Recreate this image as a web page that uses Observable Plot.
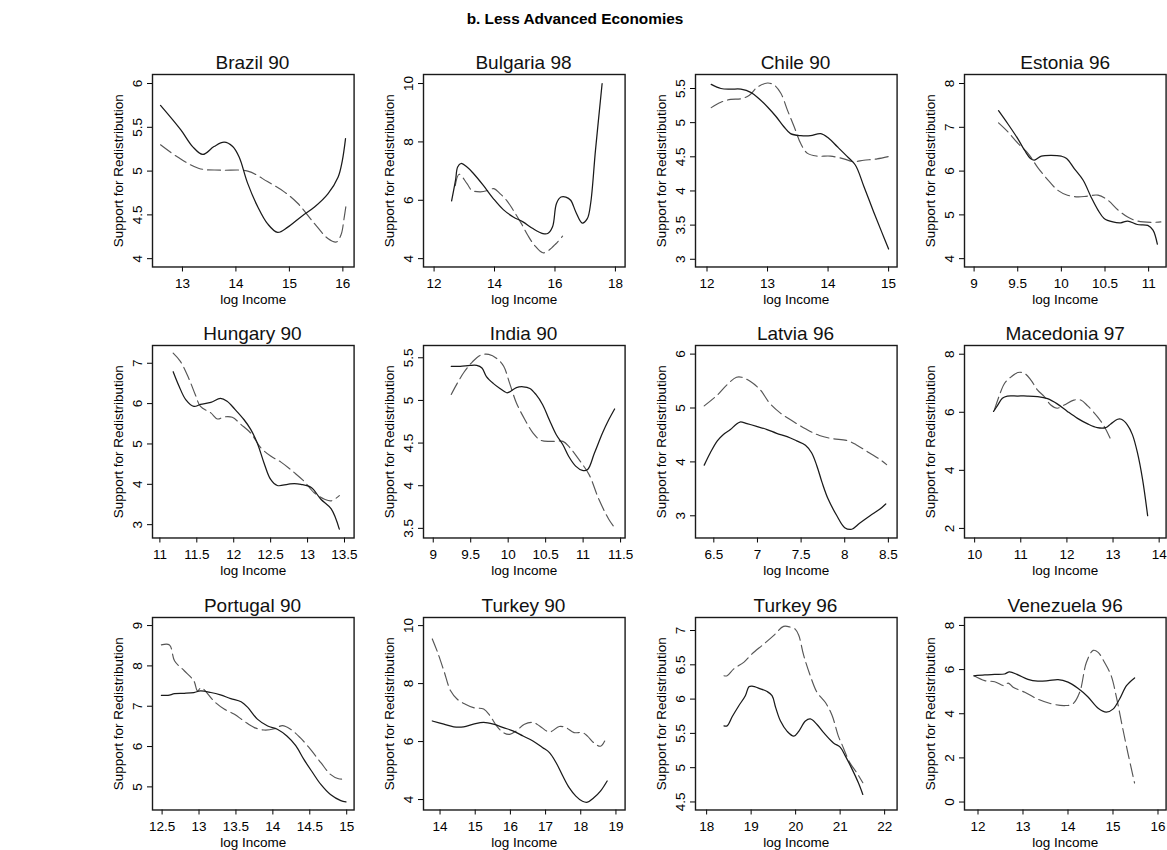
<!DOCTYPE html>
<html>
<head>
<meta charset="utf-8">
<script src="https://cdn.jsdelivr.net/npm/d3@7"></script>
<script src="https://cdn.jsdelivr.net/npm/@observablehq/plot@0.6"></script>
<style>
html, body { margin: 0; padding: 0; background: #fff; overflow: hidden; }
#chart { position: relative; width: 1167px; height: 850px; font-family: "Liberation Sans", Arial, Helvetica, sans-serif; color: #000; }
.main { position: absolute; top: 10.5px; left: 0; width: 1150px; text-align: center; font-weight: bold; font-size: 15.4px; line-height: 1; }
.ptitle { position: absolute; text-align: center; font-size: 19px; line-height: 1; color: #111; white-space: nowrap; }
.panel { position: absolute; }
</style>
</head>
<body>
<div id="chart"></div>
<script>
// ---------- data ----------
const titles = ["Brazil 90", "Bulgaria 98", "Chile 90", "Estonia 96",
                "Hungary 90", "India 90", "Latvia 96", "Macedonia 97",
                "Portugal 90", "Turkey 90", "Turkey 96", "Venezuela 96"];

const xTicks = [[13,14,15,16],[12,14,16,18],[12,13,14,15],[9,9.5,10,10.5,11],
                [11,11.5,12,12.5,13,13.5],[9,9.5,10,10.5,11,11.5],[6.5,7,7.5,8,8.5],[10,11,12,13,14],
                [12.5,13,13.5,14,14.5,15],[14,15,16,17,18,19],[18,19,20,21,22],[12,13,14,15,16]];
const yTicks = [[4,4.5,5,5.5,6],[4,6,8,10],[3,3.5,4,4.5,5,5.5],[4,5,6,7,8],
                [3,4,5,6,7],[3.5,4,4.5,5,5.5],[3,4,5,6],[2,4,6,8],
                [5,6,7,8,9],[4,6,8,10],[4.5,5,5.5,6,6.5,7],[0,2,4,6,8]];
const xDomains = [[12.44,16.21],[11.65,18.32],[11.81,15.14],[8.89,11.20],
                  [10.90,13.63],[8.87,11.56],[6.29,8.60],[9.78,14.15],
                  [12.37,15.10],[13.53,19.26],[17.75,22.28],[11.70,16.18]];
const yDomains = [[3.905,6.103],[3.714,10.31],[2.887,5.705],[3.81,8.206],
                  [2.67,7.44],[3.387,5.644],[2.588,6.16],[1.67,8.3],
                  [4.427,9.2],[3.64,10.28],[4.383,7.19],[-0.36,8.36]];

const brazilSolid = [[12.59,5.75],[12.97,5.47],[13.19,5.28],[13.38,5.19],[13.59,5.28],[13.78,5.33],[13.94,5.28],[14.06,5.16],[14.22,4.86],[14.41,4.59],[14.59,4.40],[14.78,4.30],[14.97,4.36],[15.22,4.48],[15.47,4.59],[15.72,4.74],[15.91,4.93],[15.99,5.12],[16.05,5.37]];
const brazilDashed = [[12.59,5.30],[12.91,5.16],[13.31,5.03],[13.72,5.01],[14.22,5.00],[14.59,4.88],[14.91,4.76],[15.16,4.63],[15.47,4.40],[15.72,4.23],[15.88,4.19],[15.97,4.28],[16.02,4.45],[16.06,4.61]];

const bulgariaSolid = [[12.58,5.98],[12.71,6.69],[12.78,7.14],[12.89,7.26],[13.09,7.14],[13.31,6.91],[13.63,6.51],[13.96,6.06],[14.29,5.68],[14.62,5.43],[14.94,5.26],[15.27,5.03],[15.60,4.86],[15.76,4.86],[15.92,5.09],[16.05,5.89],[16.2,6.11],[16.36,6.11],[16.52,6.0],[16.69,5.6],[16.9,5.22],[17.07,5.37],[17.18,5.89],[17.34,7.71],[17.56,10.0]];
const bulgariaDashed = [[12.70,6.50],[12.83,6.89],[13.09,6.57],[13.25,6.34],[13.53,6.29],[13.80,6.34],[13.98,6.40],[14.18,6.23],[14.40,6.00],[14.62,5.66],[14.89,5.20],[15.10,4.80],[15.32,4.46],[15.60,4.20],[15.80,4.29],[16.03,4.51],[16.25,4.77]];

const chileSolid = [[12.07,5.56],[12.23,5.50],[12.39,5.49],[12.56,5.49],[12.73,5.44],[12.86,5.35],[13.0,5.23],[13.14,5.09],[13.27,4.94],[13.38,4.84],[13.55,4.81],[13.71,4.81],[13.88,4.84],[14.01,4.77],[14.15,4.65],[14.31,4.51],[14.45,4.38],[14.59,4.07],[14.75,3.70],[14.89,3.39],[15.0,3.15]];
const chileDashed = [[12.07,5.22],[12.23,5.30],[12.39,5.34],[12.56,5.35],[12.70,5.40],[12.83,5.52],[13.0,5.58],[13.11,5.55],[13.22,5.43],[13.33,5.18],[13.44,4.94],[13.55,4.69],[13.66,4.55],[13.82,4.51],[14.04,4.51],[14.26,4.47],[14.42,4.43],[14.59,4.45],[14.81,4.47],[15.03,4.51]];

const estoniaSolid = [[9.28,7.38],[9.39,7.07],[9.5,6.74],[9.58,6.47],[9.65,6.28],[9.69,6.25],[9.77,6.34],[9.88,6.36],[10.0,6.34],[10.06,6.29],[10.15,6.05],[10.25,5.79],[10.34,5.41],[10.42,5.11],[10.49,4.92],[10.59,4.84],[10.68,4.82],[10.76,4.86],[10.87,4.78],[10.99,4.76],[11.05,4.65],[11.1,4.33]];
const estoniaDashed = [[9.28,7.10],[9.39,6.89],[9.5,6.64],[9.62,6.40],[9.73,6.08],[9.85,5.79],[9.96,5.56],[10.07,5.45],[10.19,5.41],[10.30,5.43],[10.42,5.45],[10.53,5.34],[10.65,5.11],[10.76,4.95],[10.87,4.86],[11.03,4.83],[11.14,4.84]];

const hungarySolid = [[11.18,6.79],[11.26,6.43],[11.35,6.10],[11.46,5.93],[11.55,5.98],[11.69,6.03],[11.82,6.13],[11.91,6.06],[12.02,5.85],[12.14,5.60],[12.23,5.36],[12.32,5.02],[12.41,4.53],[12.5,4.12],[12.59,3.97],[12.73,4.0],[12.82,4.02],[12.91,4.0],[13.05,3.92],[13.18,3.63],[13.32,3.39],[13.43,2.89]];
const hungaryDashed = [[11.18,7.25],[11.28,7.04],[11.39,6.63],[11.48,6.22],[11.55,5.93],[11.69,5.77],[11.78,5.62],[11.87,5.67],[11.98,5.66],[12.10,5.48],[12.23,5.27],[12.37,4.90],[12.5,4.70],[12.64,4.55],[12.82,4.29],[12.95,4.08],[13.09,3.79],[13.23,3.63],[13.32,3.59],[13.43,3.72]];

const indiaSolid = [[9.24,5.40],[9.36,5.40],[9.49,5.41],[9.58,5.41],[9.65,5.38],[9.71,5.28],[9.80,5.20],[9.89,5.14],[9.98,5.09],[10.02,5.10],[10.11,5.15],[10.20,5.16],[10.29,5.14],[10.37,5.07],[10.46,4.95],[10.55,4.77],[10.64,4.60],[10.73,4.48],[10.81,4.34],[10.90,4.23],[10.99,4.18],[11.06,4.19],[11.15,4.38],[11.26,4.62],[11.34,4.77],[11.42,4.90]];
const indiaDashed = [[9.24,5.07],[9.32,5.20],[9.41,5.33],[9.52,5.45],[9.63,5.53],[9.74,5.54],[9.85,5.49],[9.94,5.40],[10.02,5.20],[10.11,4.97],[10.22,4.78],[10.33,4.62],[10.44,4.53],[10.6,4.52],[10.73,4.52],[10.82,4.45],[10.95,4.30],[11.08,4.13],[11.21,3.84],[11.34,3.61],[11.41,3.52]];

const latviaSolid = [[6.39,3.94],[6.46,4.17],[6.54,4.39],[6.61,4.51],[6.69,4.60],[6.75,4.69],[6.80,4.74],[6.88,4.71],[6.99,4.66],[7.11,4.60],[7.22,4.53],[7.34,4.47],[7.45,4.39],[7.55,4.31],[7.62,4.17],[7.68,3.93],[7.74,3.62],[7.81,3.31],[7.91,3.0],[8.0,2.78],[8.08,2.75],[8.17,2.86],[8.29,3.0],[8.4,3.12],[8.47,3.22]];
const latviaDashed = [[6.39,5.04],[6.54,5.24],[6.65,5.43],[6.76,5.57],[6.82,5.57],[6.92,5.49],[7.03,5.34],[7.14,5.09],[7.26,4.91],[7.37,4.79],[7.49,4.67],[7.60,4.57],[7.71,4.49],[7.86,4.43],[8.02,4.40],[8.13,4.32],[8.28,4.17],[8.4,4.05],[8.48,3.95]];

const macedoniaSolid = [[10.41,6.03],[10.49,6.22],[10.6,6.48],[10.71,6.56],[10.93,6.56],[11.14,6.56],[11.36,6.54],[11.58,6.47],[11.79,6.29],[12.01,6.03],[12.23,5.79],[12.45,5.60],[12.66,5.47],[12.84,5.47],[12.95,5.60],[13.10,5.76],[13.18,5.76],[13.31,5.57],[13.42,5.23],[13.53,4.60],[13.64,3.69],[13.75,2.44]];
const macedoniaDashed = [[10.43,6.09],[10.54,6.60],[10.65,7.0],[10.79,7.22],[10.94,7.37],[11.08,7.34],[11.22,7.11],[11.36,6.77],[11.51,6.54],[11.65,6.25],[11.79,6.14],[11.94,6.25],[12.15,6.42],[12.30,6.42],[12.45,6.22],[12.66,5.85],[12.81,5.51],[12.95,5.06]];

const portugalSolid = [[12.49,7.27],[12.58,7.27],[12.67,7.31],[12.80,7.32],[12.93,7.34],[13.02,7.38],[13.16,7.34],[13.29,7.28],[13.43,7.19],[13.57,7.11],[13.66,6.97],[13.79,6.68],[13.93,6.51],[14.06,6.43],[14.19,6.26],[14.31,6.02],[14.42,5.68],[14.54,5.35],[14.65,5.06],[14.78,4.81],[14.92,4.66],[14.99,4.63]];
const portugalDashed = [[12.49,8.52],[12.60,8.52],[12.67,8.12],[12.80,7.88],[12.93,7.63],[12.98,7.38],[13.03,7.46],[13.21,7.11],[13.34,6.93],[13.48,6.80],[13.61,6.63],[13.75,6.47],[13.88,6.41],[14.02,6.44],[14.13,6.52],[14.24,6.43],[14.37,6.22],[14.51,5.93],[14.65,5.60],[14.78,5.31],[14.89,5.20],[15.0,5.20]];

const turkey90Solid = [[13.78,6.71],[14.11,6.60],[14.39,6.51],[14.67,6.51],[14.95,6.60],[15.24,6.66],[15.52,6.60],[15.80,6.48],[16.07,6.37],[16.36,6.19],[16.64,6.02],[16.92,5.79],[17.11,5.62],[17.30,5.27],[17.49,4.81],[17.67,4.41],[17.86,4.12],[18.05,3.94],[18.19,3.91],[18.37,4.06],[18.56,4.29],[18.75,4.64]];
const turkey90Dashed = [[13.78,9.54],[13.93,9.08],[14.11,8.44],[14.30,7.75],[14.49,7.46],[14.72,7.29],[14.95,7.17],[15.24,7.12],[15.42,6.89],[15.61,6.54],[15.80,6.31],[15.98,6.25],[16.17,6.37],[16.40,6.60],[16.64,6.66],[16.83,6.54],[17.11,6.33],[17.39,6.52],[17.58,6.48],[17.81,6.31],[18.05,6.31],[18.19,6.19],[18.37,5.96],[18.56,5.84],[18.68,6.02]];

const turkey96Solid = [[18.39,5.61],[18.46,5.61],[18.58,5.75],[18.72,5.90],[18.87,6.05],[18.95,6.18],[19.02,6.19],[19.21,6.15],[19.36,6.11],[19.47,6.05],[19.55,5.88],[19.66,5.68],[19.81,5.53],[19.96,5.46],[20.07,5.53],[20.22,5.68],[20.33,5.71],[20.48,5.63],[20.63,5.51],[20.85,5.36],[21.0,5.30],[21.11,5.18],[21.26,4.99],[21.41,4.78],[21.51,4.61]];
const turkey96Dashed = [[18.39,6.34],[18.46,6.34],[18.61,6.44],[18.84,6.54],[19.02,6.66],[19.28,6.80],[19.51,6.93],[19.73,7.06],[19.88,7.05],[19.99,7.02],[20.07,6.93],[20.18,6.64],[20.33,6.34],[20.48,6.10],[20.67,5.95],[20.82,5.76],[20.96,5.46],[21.04,5.34],[21.22,5.07],[21.38,4.92],[21.51,4.78]];

const venezuelaSolid = [[11.91,5.72],[12.15,5.76],[12.37,5.78],[12.59,5.80],[12.70,5.90],[12.89,5.76],[13.11,5.56],[13.33,5.48],[13.56,5.50],[13.78,5.55],[14.0,5.43],[14.22,5.15],[14.44,4.77],[14.67,4.25],[14.85,4.07],[15.0,4.21],[15.15,4.68],[15.30,5.27],[15.48,5.62]];
const venezuelaDashed = [[11.91,5.72],[12.15,5.50],[12.37,5.45],[12.59,5.27],[12.67,5.39],[12.78,5.20],[13.04,4.97],[13.33,4.66],[13.63,4.45],[13.93,4.37],[14.11,4.45],[14.26,4.97],[14.41,6.33],[14.56,6.87],[14.67,6.78],[14.81,6.33],[14.96,5.72],[15.07,4.81],[15.19,3.60],[15.33,2.23],[15.48,0.86]];

const solids = [brazilSolid, bulgariaSolid, chileSolid, estoniaSolid, hungarySolid, indiaSolid, latviaSolid, macedoniaSolid, portugalSolid, turkey90Solid, turkey96Solid, venezuelaSolid];
const dashes = [brazilDashed, bulgariaDashed, chileDashed, estoniaDashed, hungaryDashed, indiaDashed, latviaDashed, macedoniaDashed, portugalDashed, turkey90Dashed, turkey96Dashed, venezuelaDashed];

const mainTitle = "b. Less Advanced Economies";
const xLabel = "log Income";
const yLabel = "Support for Redistribution";

// ---------- layout ----------
const FONT = '"Liberation Sans", Arial, Helvetica, sans-serif';
const colLefts = [151.7, 422.7, 694.7, 964.4];
const rowTops = [74.3, 345.3, 617];
const PW = 201.6, PH = 192.5;
const ML = 60, MR = 8, MT = 4, MB = 44;
const fmt = d => String(d);

const chart = document.getElementById("chart");
const mt = document.createElement("div");
mt.className = "main";
mt.textContent = mainTitle;
chart.appendChild(mt);

titles.forEach((t, i) => {
  const r = Math.floor(i / 4), c = i % 4;
  const fl = colLefts[c], ft = rowTops[r];

  const title = document.createElement("div");
  title.className = "ptitle";
  title.style.left = fl + "px";
  title.style.width = PW + "px";
  title.style.top = (ft - 21.5) + "px";
  title.textContent = t;
  chart.appendChild(title);

  const svg = Plot.plot({
    width: ML + PW + MR,
    height: MT + PH + MB,
    marginLeft: ML, marginRight: MR, marginTop: MT, marginBottom: MB,
    style: {fontFamily: FONT, fontSize: "13.5px", background: "transparent", color: "#000", maxWidth: "none", overflow: "visible"},
    x: {domain: xDomains[i]},
    y: {domain: yDomains[i]},
    marks: [
      Plot.axisX({ticks: xTicks[i], tickFormat: fmt, tickSize: 5, tickPadding: 6, fontSize: 13.5,
                  label: xLabel, labelAnchor: "center", labelArrow: "none", labelOffset: 37}),
      Plot.axisY({ticks: yTicks[i], tickFormat: fmt, tickSize: 5, tickPadding: 10, tickRotate: -90,
                  textAnchor: "middle", lineAnchor: "middle", fontSize: 13.5,
                  label: yLabel, labelAnchor: "center", labelArrow: "none", labelOffset: 39.5}),
      Plot.line(dashes[i], {x: d => d[0], y: d => d[1], stroke: "#555", strokeWidth: 1.15,
                            strokeDasharray: "13,5", curve: "catmull-rom"}),
      Plot.line(solids[i], {x: d => d[0], y: d => d[1], stroke: "#1a1a1a", strokeWidth: 1.25,
                            curve: "catmull-rom"}),
      Plot.frame({stroke: "#1a1a1a", strokeWidth: 1.4})
    ]
  });

  const holder = document.createElement("div");
  holder.className = "panel";
  holder.style.left = (fl - ML) + "px";
  holder.style.top = (ft - MT) + "px";
  holder.style.width = (ML + PW + MR) + "px";
  holder.appendChild(svg);
  chart.appendChild(holder);
});
</script>
</body>
</html>
